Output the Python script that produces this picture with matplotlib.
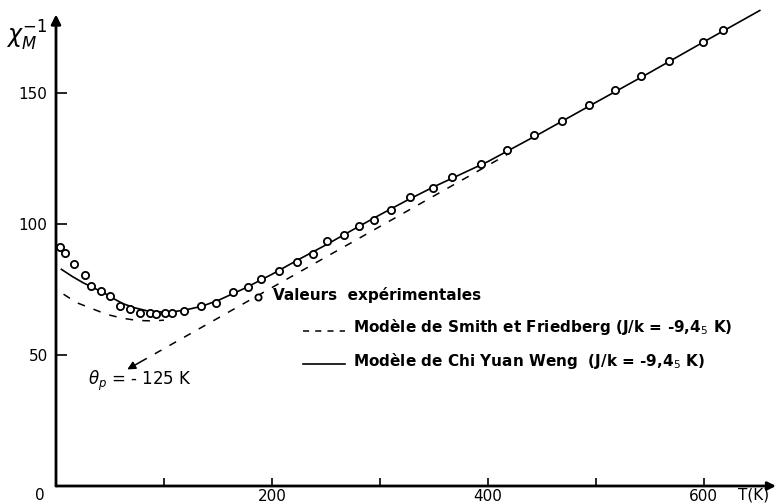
"""
plot.py - Susceptibilite inverse en fonction de T.
Sortie: out.png
"""

import matplotlib
matplotlib.use("Agg")
import matplotlib.pyplot as plt

T_exp = [4, 8.5, 17, 27, 32, 42, 50, 59, 68.5, 78, 87, 93, 101, 107, 118.5,
         134, 148, 164, 178, 190, 207, 223, 238, 251, 267, 281, 295, 310,
         328, 349, 367, 394, 418, 443, 469, 494, 518, 542, 568, 599, 618]
chi_exp = [91.2, 88.9, 84.9, 80.4, 76.3, 74.4, 72.5, 68.7, 67.4, 66.1, 66.1,
           65.8, 65.9, 66.1, 66.8, 68.7, 70.0, 74.2, 76.0, 79.1, 82.1, 85.5,
           88.7, 93.5, 95.8, 99.1, 101.6, 105.5, 110.3, 113.6, 117.9, 123.0,
           128.1, 134.0, 139.3, 145.3, 151.3, 156.6, 162.1, 169.4, 173.9]

# Modele de Chi Yuan Weng (trait plein)
T_weng = [5, 15, 25, 35, 44, 53, 62, 73, 84, 92, 100, 110, 120, 135, 150,
          175, 200, 225, 250, 275, 300, 325, 350, 375, 400, 450, 500, 550,
          600, 652]
chi_weng = [82.7, 80.0, 77.6, 75.6, 73.8, 71.6, 69.6, 68.0, 66.9, 66.5, 66.4,
            66.6, 67.2, 68.6, 70.8, 75.5, 80.8, 86.5, 92.0, 97.8, 103.5,
            109.0, 114.2, 119.0, 123.8, 134.9, 146.4, 157.8, 169.5, 181.5]

# Modele de Smith et Friedberg (tirets, basse temperature)
T_sf = [7, 19, 31.5, 47, 62, 75, 90, 100]
chi_sf = [73.2, 70.0, 68.0, 65.5, 64.0, 63.2, 63.0, 63.3]

# Asymptote de Curie-Weiss (tirets) -> theta_p = -125 K
T_cw = [78, 420]
chi_cw = [47.3, 127.0]

W, H = 776, 504


def fx(px):
    return px / W


def fy(py):
    return 1 - py / H


fig = plt.figure(figsize=(7.76, 5.04), dpi=100)
ax = fig.add_axes([fx(56), fy(486), 1 - fx(56), fy(0) - fy(486)])
ax.set_xlim(0, 667)
ax.set_ylim(0, 185.5)

for s in ax.spines.values():
    s.set_visible(False)

# axes avec fleches
ax.annotate("", xy=(0, 180), xytext=(0, 0), xycoords="data",
            arrowprops=dict(arrowstyle="-|>", lw=2, color="black",
                            mutation_scale=14, shrinkA=0, shrinkB=0),
            annotation_clip=False)
ax.annotate("", xy=(667, 0), xytext=(0, 0), xycoords="data",
            arrowprops=dict(arrowstyle="-|>", lw=2, color="black",
                            mutation_scale=12, shrinkA=0, shrinkB=0),
            annotation_clip=False)

ax.set_yticks([50, 100, 150])
ax.set_yticklabels(["50", "100", "150"], fontsize=11)
ax.set_xticks([100, 200, 300, 400, 500, 600])
ax.set_xticklabels(["", "200", "", "400", "", "600"], fontsize=11)
ax.tick_params(axis="y", direction="in", length=8, width=1.2, pad=6)
ax.tick_params(axis="x", direction="in", length=6, width=1.2, pad=2)

# courbes
ax.plot(T_weng, chi_weng, color="black", lw=1.2, clip_on=False)
ax.plot(T_sf, chi_sf, color="black", lw=1.1, dashes=(5, 6))
ax.plot(T_cw, chi_cw, color="black", lw=1.1, dashes=(5, 6))
ax.plot(T_exp, chi_exp, "o", ms=5.2, mfc="white", mec="black", mew=1.3,
        clip_on=False)

# fleche theta_p
ax.annotate("", xy=(T_cw[0] - 12, chi_cw[0] - 2.8), xytext=(T_cw[0], chi_cw[0]),
            arrowprops=dict(arrowstyle="-|>", lw=1.1, color="black",
                            mutation_scale=12, shrinkA=0, shrinkB=0))
fig.text(fx(140), fy(381), r"$\theta_p$ = - 125 K", fontsize=12,
         ha="center", va="center")

# labels des axes
fig.text(fx(6), fy(36), r"$\chi_M^{-1}$", fontsize=17, ha="left", va="center")
fig.text(fx(40), fy(495), "0", fontsize=11, ha="center", va="center")
fig.text(fx(754), fy(495), "T(K)", fontsize=11, ha="center", va="center")

# legende manuelle
ax.plot([fx(258)], [fy(297)], "o", ms=4.5, mfc="white", mec="black", mew=1.3,
        transform=fig.transFigure, clip_on=False)
fig.text(fx(273), fy(295), "Valeurs  expérimentales", fontsize=11,
         fontweight="bold", ha="left", va="center")
ax.plot([fx(303), fx(345)], [fy(331), fy(331)], color="black", lw=1.1,
        dashes=(4, 4), transform=fig.transFigure, clip_on=False)
fig.text(fx(353), fy(327), r"Modèle de Smith et Friedberg (J/k = -9,4$_5$ K)",
         fontsize=11, fontweight="bold", ha="left", va="center")
ax.plot([fx(303), fx(345)], [fy(364), fy(364)], color="black", lw=1.2,
        transform=fig.transFigure, clip_on=False)
fig.text(fx(353), fy(361), r"Modèle de Chi Yuan Weng  (J/k = -9,4$_5$ K)",
         fontsize=11, fontweight="bold", ha="left", va="center")

fig.savefig("out.png", dpi=100)
plt.close(fig)
